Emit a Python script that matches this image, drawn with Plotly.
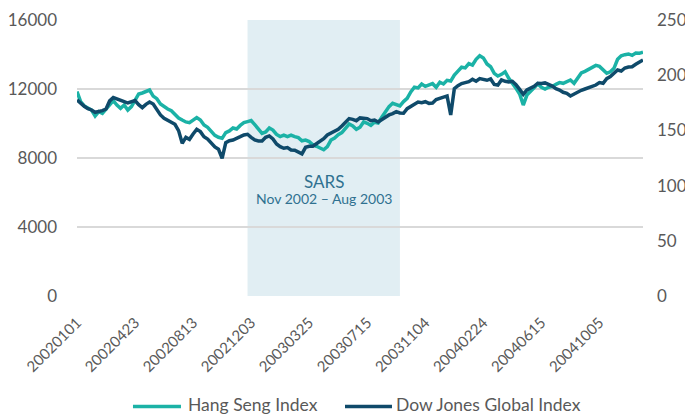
import pandas as pd
import plotly.graph_objects as go

# Weekly observations (Tuesdays), starting 2002-01-01
START_DATE = "2002-01-01"
N_WEEKS = 157

HANG_SENG = [
    11850, 11270, 11020, 10880, 10780, 10440, 10690, 10590, 10820, 11030,
    11320, 11070, 10880, 11070, 10780, 10980, 11300, 11710, 11770, 11850,
    11940, 11590, 11440, 11130, 10960, 10840, 10740, 10550, 10320, 10200,
    10090, 10050, 10200, 10340, 10200, 9910, 9780, 9510, 9310, 9200,
    9140, 9470, 9570, 9740, 9680, 9890, 10050, 10110, 10170, 9930,
    9680, 9430, 9510, 9740, 9620, 9370, 9240, 9330, 9240, 9330,
    9240, 9180, 9000, 9040, 8950, 8770, 8680, 8580, 8480, 8660,
    9040, 9160, 9350, 9470, 9740, 9970, 9860, 9660, 9780, 10090,
    10010, 9890, 10070, 10030, 10360, 10670, 10980, 11170, 11110, 11020,
    11270, 11460, 11830, 12100, 12060, 12290, 12150, 12230, 12310, 12100,
    12390, 12290, 12500, 12460, 12810, 13040, 13260, 13220, 13470, 13390,
    13720, 13930, 13800, 13450, 13290, 12910, 12750, 12850, 13000, 12620,
    12370, 12040, 11710, 11070, 11650, 11850, 12060, 12290, 12100, 12000,
    12100, 12150, 12270, 12370, 12330, 12430, 12520, 12330, 12620, 12930,
    13020, 13140, 13260, 13370, 13310, 13140, 12910, 13000, 13200, 13720,
    13930, 13990, 14030, 13950, 14090, 14070, 14140,
]

DOW_JONES_GLOBAL = [
    177.6, 174.5, 171.8, 169.7, 168.5, 166.4, 167.0, 167.9, 169.4, 176.7,
    179.7, 178.2, 177.0, 176.0, 174.8, 176.3, 177.0, 173.3, 170.6, 173.6,
    175.7, 173.9, 169.1, 164.0, 161.0, 159.1, 157.6, 155.5, 149.8, 138.3,
    143.7, 141.9, 146.8, 151.0, 148.9, 144.3, 142.2, 138.0, 135.0, 132.9,
    124.7, 138.9, 140.7, 141.3, 142.5, 144.3, 145.9, 146.5, 143.7, 141.3,
    140.4, 140.4, 143.7, 145.0, 142.2, 137.7, 135.3, 133.8, 134.4, 132.3,
    132.0, 129.9, 128.7, 134.7, 135.6, 135.6, 137.7, 139.8, 142.5, 145.9,
    147.7, 149.8, 151.0, 154.0, 157.6, 160.7, 160.0, 158.8, 161.3, 161.0,
    160.7, 158.8, 159.4, 157.6, 160.0, 162.5, 164.0, 165.2, 167.0, 165.8,
    165.5, 169.7, 171.8, 173.9, 175.7, 175.1, 176.0, 174.5, 174.8, 177.9,
    179.1, 179.7, 181.2, 164.0, 187.8, 190.5, 192.4, 193.3, 194.2, 196.3,
    194.5, 196.9, 196.3, 195.4, 196.6, 191.7, 191.1, 195.7, 194.5, 193.9,
    194.5, 191.4, 187.2, 182.7, 186.6, 188.1, 189.9, 192.7, 192.4, 193.0,
    192.0, 190.2, 187.8, 186.6, 184.5, 183.6, 181.2, 183.0, 185.1, 186.3,
    187.5, 188.7, 189.6, 191.1, 193.3, 192.7, 196.9, 198.7, 201.7, 204.7,
    203.8, 206.5, 207.4, 207.7, 209.9, 212.0, 213.8,
]

SERIES_NAMES = ["Hang Seng Index", "Dow Jones Global Index"]
TICK_LABELS = ["20020101", "20020423", "20020813", "20021203", "20030325",
               "20030715", "20031104", "20040224", "20040615", "20041005"]
LEFT_TICKS = [0, 4000, 8000, 12000, 16000]
RIGHT_TICKS = [0, 50, 100, 150, 200, 250]

SARS_START = "20021126"
SARS_END = "20030916"
SARS_TITLE = "SARS"
SARS_SUBTITLE = "Nov 2002 – Aug 2003"

dates = list(pd.date_range(START_DATE, periods=N_WEEKS, freq="7D").strftime("%Y%m%d"))

TEAL = "#1bb2a6"
NAVY = "#0f4a6a"
GRAY = "#595959"
GRID = "#d9d9d9"
FONT = "Lato"

fig = go.Figure()
fig.add_trace(go.Scatter(x=dates, y=HANG_SENG, name=SERIES_NAMES[0], mode="lines",
                         line=dict(color=TEAL, width=3.5), yaxis="y"))
fig.add_trace(go.Scatter(x=dates, y=DOW_JONES_GLOBAL, name=SERIES_NAMES[1], mode="lines",
                         line=dict(color=NAVY, width=3.5), yaxis="y2"))

i0 = dates.index(SARS_START)
i1 = dates.index(SARS_END)
fig.add_shape(type="rect", xref="x", yref="y", x0=i0, x1=i1, y0=0, y1=16000,
              fillcolor="#e1eef3", line_width=0, layer="below")
fig.add_annotation(x=(i0 + i1) / 2, y=6650, xref="x", yref="y", text=SARS_TITLE,
                   showarrow=False, font=dict(family=FONT, size=17, color="#2f7190"))
fig.add_annotation(x=(i0 + i1) / 2, y=5650, xref="x", yref="y", text=SARS_SUBTITLE,
                   showarrow=False, font=dict(family=FONT, size=14, color="#2f7190"))

# legend drawn by hand (sample line + label) below the x tick labels
LEG_Y = -0.400
legend_items = [
    (SERIES_NAMES[0], TEAL, 0.0989, 0.1837, 0.1925),
    (SERIES_NAMES[1], NAVY, 0.4735, 0.5565, 0.5600),
]
for name, color, xs0, xs1, xt in legend_items:
    fig.add_shape(type="line", xref="paper", yref="paper", x0=xs0, x1=xs1, y0=LEG_Y, y1=LEG_Y,
                  line=dict(color=color, width=3.5))
    fig.add_annotation(x=xt, y=LEG_Y + 0.006, xref="paper", yref="paper", text=name,
                       showarrow=False, xanchor="left", yanchor="middle",
                       font=dict(family=FONT, size=17.5, color=GRAY))

# page body adds an 8px offset; figure size/margins compensate
fig.update_layout(
    width=685, height=412,
    margin=dict(l=69, r=50, t=12, b=124, autoexpand=False),
    paper_bgcolor="white", plot_bgcolor="white",
    font=dict(family=FONT, color=GRAY),
    showlegend=False,
    xaxis=dict(type="category", tickmode="array", tickvals=TICK_LABELS, ticktext=TICK_LABELS,
               tickangle=-45, showgrid=False, showline=False, zeroline=False, automargin=False,
               tickfont=dict(family=FONT, size=15, color=GRAY), ticklabelstandoff=14),
    yaxis=dict(range=[0, 16000], tickvals=LEFT_TICKS, showgrid=True, gridcolor=GRID, gridwidth=1.5,
               zeroline=False, showline=False, tickformat="d", automargin=False,
               tickfont=dict(family=FONT, size=17, color=GRAY), ticklabelstandoff=19),
    yaxis2=dict(range=[0, 250], tickvals=RIGHT_TICKS, overlaying="y", side="right", showgrid=False,
                zeroline=False, showline=False, automargin=False,
                tickfont=dict(family=FONT, size=17, color=GRAY), ticklabelstandoff=13),
)

fig.write_html("out.html")
